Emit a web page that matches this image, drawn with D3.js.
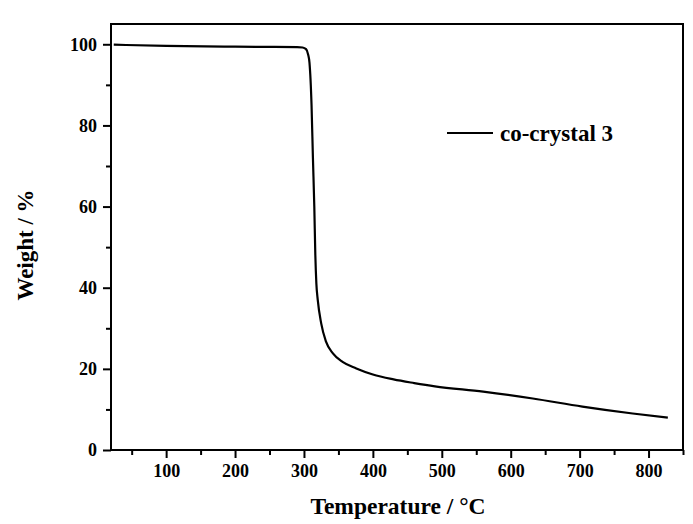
<!DOCTYPE html>
<html>
<head>
<meta charset="utf-8">
<script src="https://cdn.jsdelivr.net/npm/d3@7"></script>
<style>
  body { margin: 0; background: #fff; }
  text { font-family: "Liberation Serif", "Times New Roman", serif; font-weight: bold; fill: #000; }
</style>
</head>
<body>
<div class="chart-container"></div>
<script>
var width = 693;
var height = 524;

// TGA curve
var temperature = [24, 100, 200, 290, 298, 303, 306, 308, 311, 313, 315, 316.5, 318, 320, 325, 332, 342, 356, 376, 400, 430, 460, 490, 560, 632, 704, 777, 828];
var weight = [99.9, 99.6, 99.4, 99.3, 99.2, 98.8, 97.5, 95.5, 85, 72, 60, 48, 41, 37, 31.2, 26.7, 23.8, 21.7, 20.1, 18.6, 17.4, 16.5, 15.7, 14.4, 12.7, 10.7, 9.0, 8.0];
var xTicks = [100, 200, 300, 400, 500, 600, 700, 800];
var yTicks = [0, 20, 40, 60, 80, 100];
var seriesName = "co-crystal 3";

var margin = { top: 24, right: 10, bottom: 74, left: 111 };
var plotW = width - margin.left - margin.right;
var plotH = height - margin.top - margin.bottom;

var svg = d3
  .select(".chart-container")
  .append("svg")
  .attr("width", width)
  .attr("height", height)
  .append("g")
  .attr("transform", `translate(${margin.left}, ${margin.top})`);

var x = d3.scaleLinear().domain([20, 850]).range([0, plotW]);
var y = d3.scaleLinear().domain([0, 105]).range([plotH, 0]);

// minor ticks first, then major ones on top
var xMinor = d3.range(50, 851, 100);
var yMinor = d3.range(10, 101, 20);

svg.append("g")
  .attr("transform", `translate(0,${plotH})`)
  .call(d3.axisBottom(x).tickValues(xMinor).tickSize(5).tickFormat(""))
  .call((g) => g.select(".domain").remove());

svg.append("g")
  .call(d3.axisLeft(y).tickValues(yMinor).tickSize(5).tickFormat(""))
  .call((g) => g.select(".domain").remove());

var xAxis = svg.append("g")
  .attr("class", "x axis")
  .attr("transform", `translate(0,${plotH})`)
  .call(d3.axisBottom(x).tickValues(xTicks).tickSize(8).tickSizeOuter(0).tickPadding(6));

var yAxis = svg.append("g")
  .attr("class", "y axis")
  .call(d3.axisLeft(y).tickValues(yTicks).tickSize(8).tickSizeOuter(0).tickPadding(6));

svg.selectAll(".axis text").attr("font-size", "18px").attr("font-family", "Liberation Serif");
svg.selectAll(".tick line").attr("stroke-width", 2);

// frame around the plot
svg.append("rect")
  .attr("width", plotW)
  .attr("height", plotH)
  .attr("fill", "none")
  .attr("stroke", "black")
  .attr("stroke-width", 2);
svg.selectAll(".domain").remove();

var data = temperature.map((t, i) => ({ t: t, w: weight[i] }));

var line = d3.line()
  .x((d) => x(d.t))
  .y((d) => y(d.w))
  .curve(d3.curveMonotoneX);

svg.append("path")
  .datum(data)
  .attr("fill", "none")
  .attr("stroke", "black")
  .attr("stroke-width", 2.2)
  .attr("d", line);

// legend
var legend = svg.append("g").attr("transform", "translate(336, 109)");
legend.append("line")
  .attr("x1", 0).attr("x2", 46)
  .attr("stroke", "black").attr("stroke-width", 2.2);
legend.append("text")
  .attr("x", 53)
  .attr("dy", "0.33em")
  .attr("font-size", "23px")
  .text(seriesName);

// axis titles
svg.append("text")
  .attr("x", plotW / 2 + 1)
  .attr("y", plotH + 64)
  .attr("text-anchor", "middle")
  .attr("font-size", "23.5px")
  .text("Temperature / \u00b0C");

svg.append("text")
  .attr("transform", `translate(${-78}, ${plotH / 2 + 8}) rotate(-90)`)
  .attr("text-anchor", "middle")
  .attr("font-size", "23px")
  .text("Weight / %");
</script>
</body>
</html>
